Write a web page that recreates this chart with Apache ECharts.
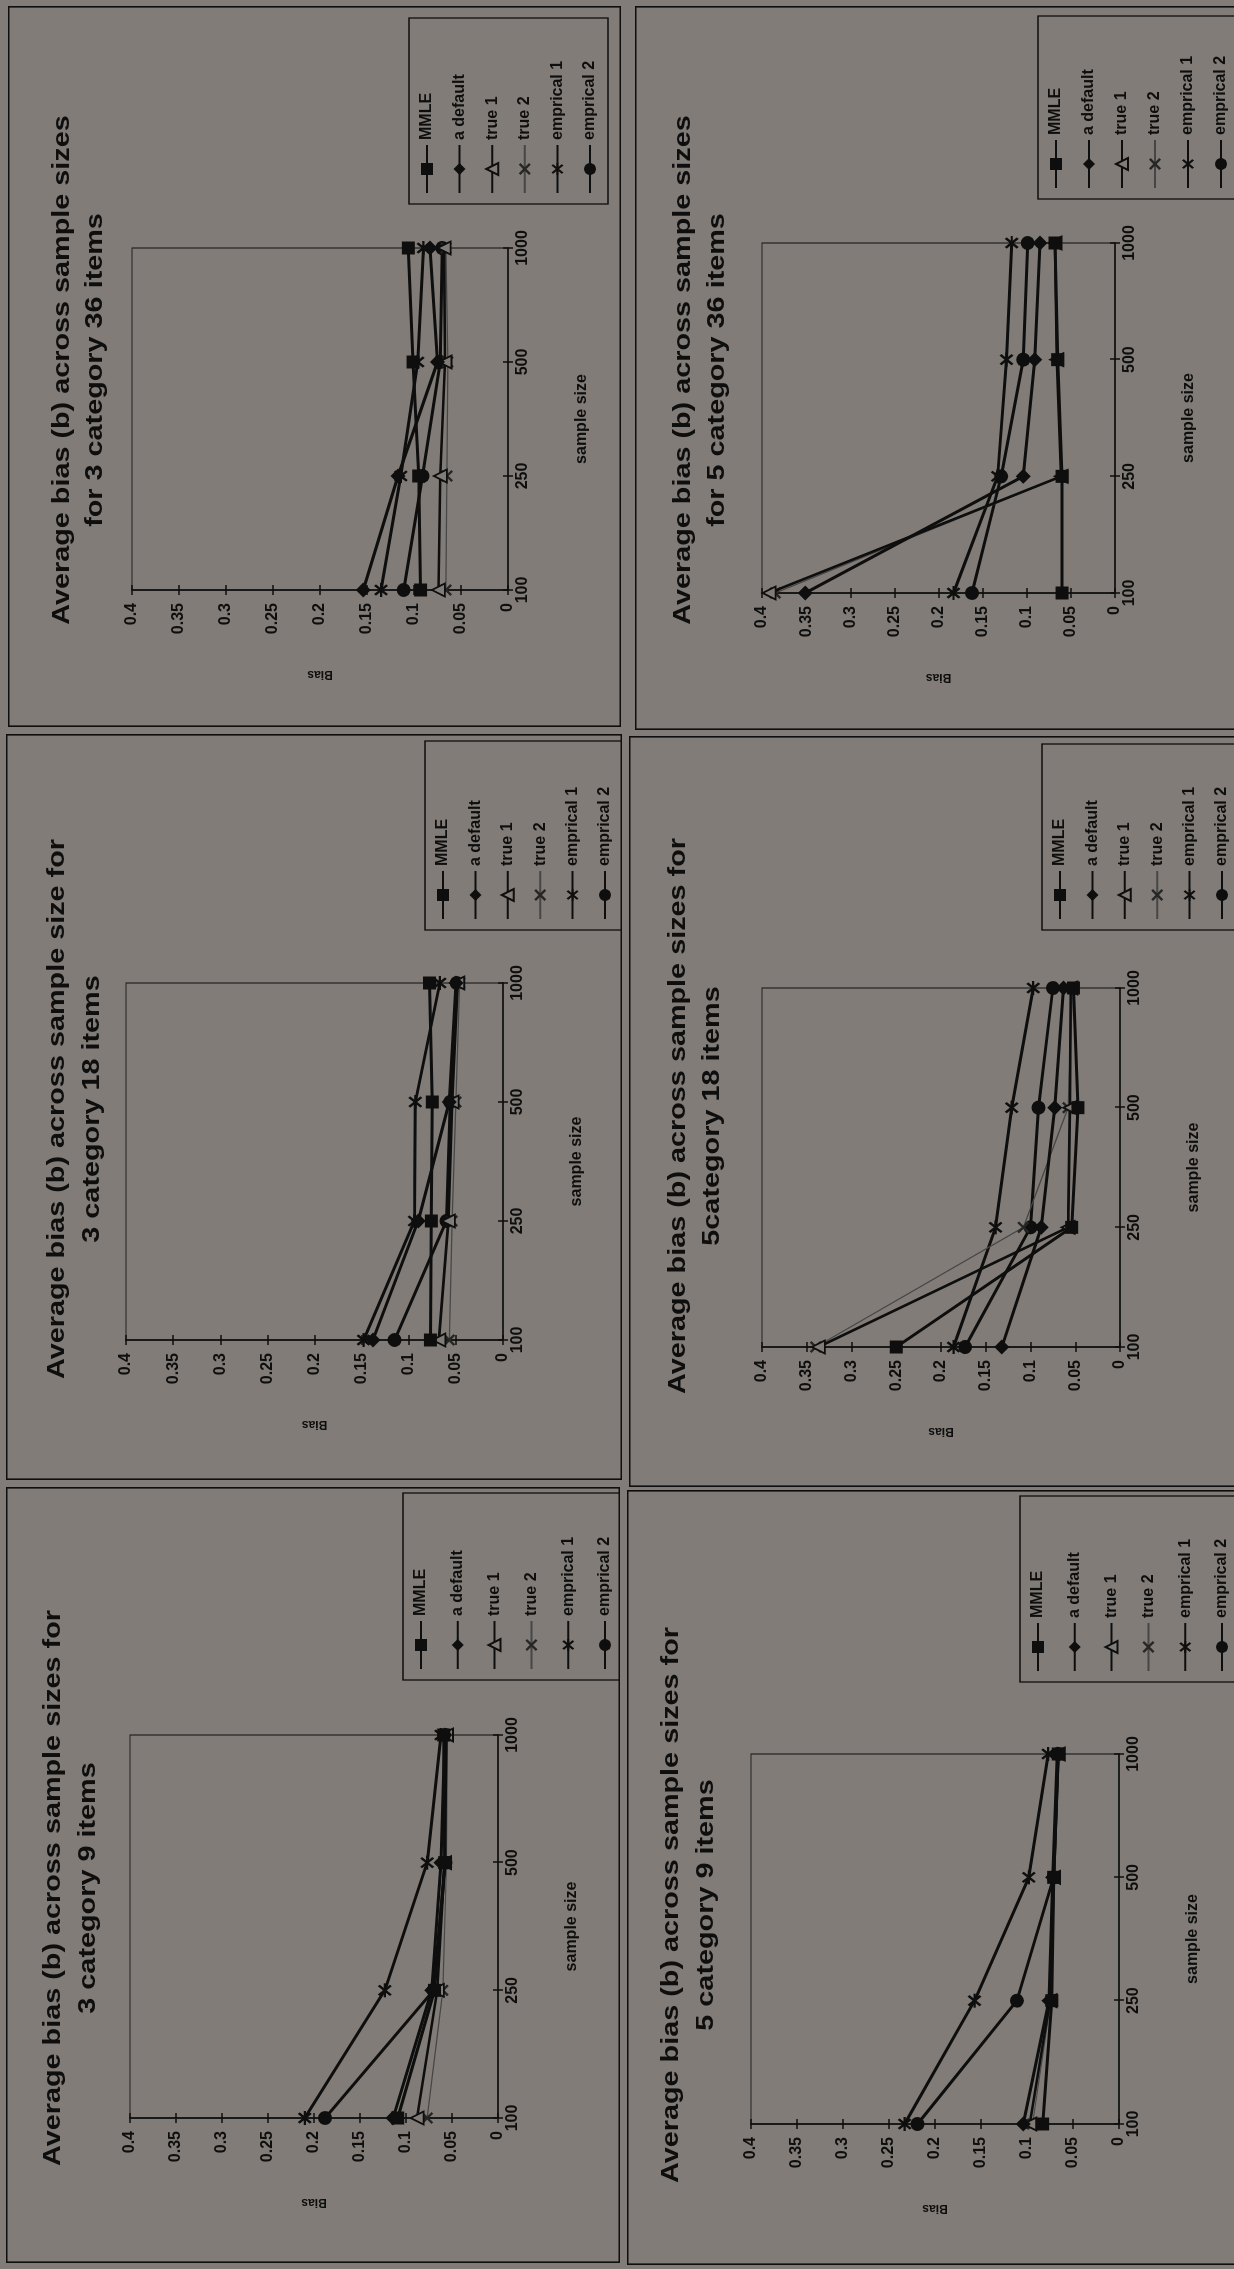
<!DOCTYPE html>
<html>
<head>
<meta charset="utf-8">
<title>Average bias (b) across sample sizes</title>
<script src="https://cdn.jsdelivr.net/npm/echarts@6/dist/echarts.min.js"></script>
<style>
  html, body { margin: 0; padding: 0; width: 1234px; height: 2269px; overflow: hidden; background: #817c77; }
  .chart { position: absolute; transform-origin: 0 0; }
</style>
</head>
<body>
<script>
// ---- data -----------------------------------------------------------------
const sampleSizes = ['100', '250', '500', '1000'];
const seriesNames = ['MMLE', 'a default', 'true 1', 'true 2', 'emprical 1', 'emprical 2'];
const biasMin = 0, biasMax = 0.4, biasStep = 0.05;

const panelTitles = [
  'Average bias (b) across sample sizes\nfor 3 category 36 items',
  'Average bias (b) across sample sizes\nfor 5 category 36 items',
  'Average bias (b) across sample size for\n3 category 18 items',
  'Average bias (b) across sample sizes for\n5category 18 items',
  'Average bias (b) across sample sizes for\n3 category 9 items',
  'Average bias (b) across sample sizes for\n5 category 9 items'
];

// one row per method (order of seriesNames), one column per sample size
const bias3cat36 = [
  [0.093, 0.095, 0.101, 0.106],
  [0.154, 0.117, 0.075, 0.083],
  [0.074, 0.072, 0.067, 0.068],
  [0.066, 0.065, 0.064, 0.066],
  [0.135, 0.114, 0.096, 0.090],
  [0.111, 0.091, 0.072, 0.070]
];
const bias5cat36 = [
  [0.060, 0.060, 0.065, 0.068],
  [0.351, 0.104, 0.091, 0.085],
  [0.392, 0.061, 0.066, 0.068],
  [0.385, 0.060, 0.065, 0.068],
  [0.183, 0.133, 0.123, 0.117],
  [0.162, 0.129, 0.104, 0.099]
];
const bias3cat18 = [
  [0.077, 0.076, 0.075, 0.078],
  [0.138, 0.090, 0.057, 0.050],
  [0.068, 0.058, 0.054, 0.048],
  [0.057, 0.054, 0.050, 0.046],
  [0.148, 0.094, 0.093, 0.067],
  [0.115, 0.060, 0.056, 0.049]
];
const bias5cat18 = [
  [0.250, 0.054, 0.047, 0.052],
  [0.132, 0.088, 0.073, 0.063],
  [0.337, 0.058, 0.056, 0.055],
  [0.340, 0.108, 0.058, 0.053],
  [0.186, 0.139, 0.121, 0.097],
  [0.173, 0.100, 0.091, 0.075]
];
const bias3cat9 = [
  [0.109, 0.069, 0.058, 0.059],
  [0.114, 0.072, 0.062, 0.058],
  [0.088, 0.066, 0.058, 0.056],
  [0.077, 0.060, 0.056, 0.055],
  [0.210, 0.123, 0.077, 0.062],
  [0.188, 0.070, 0.057, 0.057]
];
const bias5cat9 = [
  [0.083, 0.073, 0.071, 0.066],
  [0.104, 0.076, 0.072, 0.067],
  [0.097, 0.075, 0.071, 0.066],
  [0.094, 0.074, 0.070, 0.066],
  [0.233, 0.157, 0.098, 0.077],
  [0.219, 0.111, 0.071, 0.066]
];
const panelData = [bias3cat36, bias5cat36, bias3cat18, bias5cat18, bias3cat9, bias5cat9];

// ---- page layout (page pixels; every chart is turned a quarter-turn counter-clockwise) ----
// frame: [x, y, w, h]
const frames = [[8, 6, 613, 721], [635, 6, 605, 724], [6, 734, 616, 746],
                [629, 736, 611, 751], [6, 1487, 614, 776], [627, 1490, 613, 775]];
// plot area: [left, top, right, bottom]
const plots = [[132, 248, 508, 590], [762, 243, 1115, 593], [126, 983, 503, 1340],
               [762, 988, 1120, 1347], [130, 1735, 498, 2118], [751, 1754, 1119, 2124]];
// legend box: [left, top, right, bottom]
const legendBoxes = [[409, 19, 602, 204], [1038, 17, 1233, 199], [425, 742, 617, 930],
                     [1042, 745, 1234, 930], [403, 1494, 617, 1680], [1020, 1497, 1234, 1682]];
// title: [x of line 1, x of line 2, centre y]
const titlePlaces = [[62, 95, 370], [683, 717, 370], [57, 92, 1109],
                     [678, 712, 1116], [53, 88, 1888], [671, 706, 1905]];

// ---- styling --------------------------------------------------------------
const FONT = '"Liberation Sans", Arial, sans-serif';
const INK = '#0e0e0e';
const PAPER = '#817c77';
const X_SHAPE = 'path://M0,1.4L1.4,0L5,3.6L8.6,0L10,1.4L6.4,5L10,8.6L8.6,10L5,6.4L1.4,10L0,8.6L3.6,5Z';
const STAR_SHAPE = X_SHAPE + ' M-1.2,4.2L11.2,4.2L11.2,5.8L-1.2,5.8Z';

const markerStyles = [
  { symbol: 'rect', size: 13, item: { color: INK }, line: { color: INK, width: 3 } },
  { symbol: 'diamond', size: 15, item: { color: INK }, line: { color: INK, width: 3 } },
  { symbol: 'triangle', size: 13, item: { color: PAPER, borderColor: INK, borderWidth: 1.8 }, line: { color: INK, width: 2.6 } },
  { symbol: X_SHAPE, size: 12, item: { color: '#262626' }, line: { color: '#464646', width: 1.2 } },
  { symbol: STAR_SHAPE, size: 14, item: { color: INK }, line: { color: INK, width: 3 } },
  { symbol: 'circle', size: 14, item: { color: INK }, line: { color: INK, width: 3 } }
];

const measure = (() => {
  const ctx = document.createElement('canvas').getContext('2d');
  return (text, font) => { ctx.font = font; return ctx.measureText(text).width; };
})();

const LEGEND_FONT_SIZE = 16;
const TITLE_FONT_SIZE = 24;
const TITLE_STRETCH = 1.2;

frames.forEach((fr, i) => {
  const [fx, fy, fw, fh] = fr;
  const W = fh, H = fw;                 // upright chart size
  const toU = y => fy + fh - y;         // page y -> upright x
  const toV = x => x - fx;              // page x -> upright y

  const el = document.createElement('div');
  el.className = 'chart';
  el.style.left = fx + 'px';
  el.style.top = fy + 'px';
  el.style.width = W + 'px';
  el.style.height = H + 'px';
  el.style.transform = `translateY(${fh}px) rotate(-90deg)`;
  document.body.appendChild(el);

  const chart = echarts.init(el, null, { renderer: 'canvas', width: W, height: H });

  const [px0, py0, px1, py1] = plots[i];
  const grid = { left: toU(py1), right: W - toU(py0), top: toV(px0), bottom: H - toV(px1) };

  const [lx0, ly0, lx1, ly1] = legendBoxes[i];
  const legH = lx1 - lx0, legW = ly1 - ly0;
  const itemH = 15, padV = 10, padL = 10, iconW = 48;
  const gap = (legH - 2 * padV - 6 * itemH) / 5;
  const textW = Math.max(...seriesNames.map(n => measure(n, `bold ${LEGEND_FONT_SIZE}px ${FONT}`)));
  const padR = Math.max(4, legW - padL - iconW - 5 - textW);

  const [t1, t2, tc] = titlePlaces[i];
  const lineH = t2 - t1;

  const labelText = { color: INK, fontFamily: FONT, fontWeight: 'bold' };

  chart.setOption({
    animation: false,
    backgroundColor: 'transparent',
    textStyle: { fontFamily: FONT },
    grid: { ...grid, show: true, borderColor: '#222', borderWidth: 1.2, backgroundColor: 'transparent' },
    graphic: [
      { type: 'rect', silent: true, shape: { x: 0.8, y: 0.8, width: W - 1.6, height: H - 1.6 },
        style: { fill: 'none', stroke: INK, lineWidth: 1.6 } },
      { type: 'text', silent: true, x: toU(tc), y: toV(t1) - lineH / 2, scaleX: TITLE_STRETCH,
        style: { text: panelTitles[i], font: `bold ${TITLE_FONT_SIZE}px ${FONT}`, fill: INK,
                 align: 'center', verticalAlign: 'top', lineHeight: lineH } }
    ],
    legend: {
      data: seriesNames, orient: 'vertical', left: toU(ly1), top: toV(lx0), height: 400,
      itemWidth: iconW, itemHeight: itemH, itemGap: gap,
      padding: [padV, padR, padV, padL], borderColor: INK, borderWidth: 1.3,
      selectedMode: false,
      textStyle: { ...labelText, fontSize: LEGEND_FONT_SIZE }
    },
    xAxis: [
      { type: 'category', data: sampleSizes, boundaryGap: false,
        axisLine: { lineStyle: { color: INK, width: 1.6 } },
        axisTick: { show: true, length: 5, alignWithLabel: true, lineStyle: { color: INK, width: 1.5 } },
        axisLabel: { ...labelText, fontSize: 16, margin: 7 },
        splitLine: { show: false },
        name: 'sample size', nameLocation: 'middle', nameGap: 66,
        nameTextStyle: { ...labelText, fontSize: 16 } },
      { type: 'category', data: sampleSizes, boundaryGap: false, position: 'bottom',
        axisLine: { show: false }, axisLabel: { show: false }, splitLine: { show: false },
        axisTick: { show: true, inside: true, length: 5, lineStyle: { color: INK, width: 1.5 } } }
    ],
    yAxis: [
      { type: 'value', min: biasMin, max: biasMax, interval: biasStep, position: 'left',
        axisLine: { show: true, lineStyle: { color: INK, width: 1.6 } },
        axisTick: { show: true, length: 5, lineStyle: { color: INK, width: 1.5 } },
        axisLabel: { ...labelText, fontSize: 16, margin: 13 },
        splitLine: { show: false },
        name: 'Bias', nameLocation: 'middle', nameRotate: 90, nameGap: 78,
        nameTextStyle: { ...labelText, fontSize: 12 } },
      { type: 'value', min: biasMin, max: biasMax, interval: biasStep, position: 'left',
        axisLine: { show: false }, axisLabel: { show: false }, splitLine: { show: false },
        axisTick: { show: true, inside: true, length: 5, lineStyle: { color: INK, width: 1.5 } } }
    ],
    series: seriesNames.map((name, k) => ({
      name, type: 'line', data: panelData[i][k],
      symbol: markerStyles[k].symbol, symbolSize: markerStyles[k].size, showSymbol: true,
      lineStyle: markerStyles[k].line, itemStyle: markerStyles[k].item,
      z: 10 - k
    }))
  });
});
</script>
</body>
</html>
